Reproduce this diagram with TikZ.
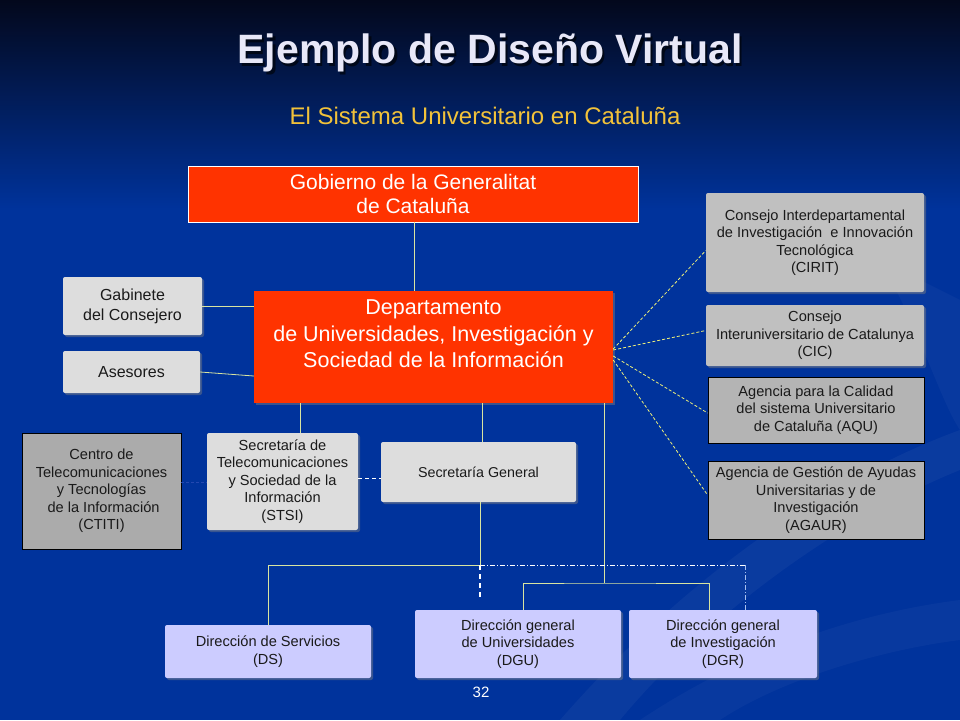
\documentclass[tikz,border=0pt]{standalone}
\usepackage{fontspec}
\setmainfont{Liberation Sans}
\usetikzlibrary{shadows}
\definecolor{bgtop}{HTML}{03081C}
\definecolor{bgbot}{HTML}{00339C}
\definecolor{redbox}{HTML}{FF3300}
\definecolor{lightbox}{HTML}{DDDDDD}
\definecolor{midbox}{HTML}{C0C0C0}
\definecolor{darkbox}{HTML}{B4B4B4}
\definecolor{ctbox}{HTML}{ABABAB}
\definecolor{lavbox}{HTML}{CCCCFF}
\definecolor{titlec}{HTML}{E8E8F8}
\definecolor{subc}{HTML}{F2C23A}
\definecolor{linec}{HTML}{D8E4A0}
\definecolor{yelld}{HTML}{EEF07A}
\definecolor{darkdash}{HTML}{2448B0}
\definecolor{lbluedash}{HTML}{A8C0F0}
\definecolor{txt}{HTML}{1A1A1A}
\tikzset{
  sz/.style 2 args={minimum width=#1, minimum height=#2},
  boxbase/.style={inner sep=0pt, align=center, font=\fontsize{14.6}{17.5}\selectfont, text=txt},
  redb/.style={boxbase, fill=redbox, text=white, font=\fontsize{21}{24}\selectfont},
  lightb/.style={boxbase, fill=lightbox, rounded corners=2pt, drop shadow={shadow xshift=2pt, shadow yshift=-2pt, opacity=0.45}},
  midb/.style={boxbase, fill=midbox, rounded corners=2pt, drop shadow={shadow xshift=2pt, shadow yshift=-2pt, opacity=0.45}},
  darkb/.style={boxbase, fill=darkbox, draw=black, line width=0.8pt},
  ctb/.style={boxbase, fill=ctbox, draw=black, line width=0.8pt},
  lavb/.style={boxbase, fill=lavbox, rounded corners=2pt, drop shadow={shadow xshift=2pt, shadow yshift=-2pt, opacity=0.45}},
  conn/.style={draw=linec, line width=0.8pt},
  yconn/.style={draw=yelld, line width=0.8pt, dash pattern=on 3pt off 2pt},
}
\begin{document}
\begin{tikzpicture}[x=1pt,y=-1pt]
\useasboundingbox (0,0) rectangle (960,720);
% background
\fill[bgbot] (0,0) rectangle (960,720);
\shade[top color=bgtop, bottom color=bgbot] (0,0) rectangle (960,210);
\fill[white, opacity=0.04] (560,720) .. controls (700,560) and (850,470) .. (960,430) -- (960,470) .. controls (860,510) and (720,600) .. (620,720) -- cycle;
\fill[white, opacity=0.03] (640,720) .. controls (760,640) and (880,610) .. (960,600) -- (960,640) .. controls (880,650) and (780,680) .. (720,720) -- cycle;
\fill[white, opacity=0.03] (880,260) .. controls (920,330) and (940,400) .. (960,430) -- (960,300) -- cycle;

% title
\node[text=black, opacity=0.6, font=\fontsize{41}{46}\selectfont\bfseries] at (492.5,55.5) {Ejemplo de Diseño Virtual};
\node[text=titlec, font=\fontsize{41}{46}\selectfont\bfseries] (title) at (490,53) {Ejemplo de Diseño Virtual};
\node[text=subc, font=\fontsize{24}{28}\selectfont] (sub) at (485,116) {El Sistema Universitario en Cataluña};

% top boxes
\node[redb, draw=white, line width=0.8pt, sz={450}{56}] (gob) at (413,194) {Gobierno de la Generalitat\\de Cataluña};
\node[redb, sz={359}{112}, drop shadow={shadow xshift=2pt, shadow yshift=-2pt, opacity=0.45}] (dept) at (433.5,347) {};
\node[text=white, align=center, font=\fontsize{21.5}{26.5}\selectfont] (deptT) at (433.5,334) {Departamento\\de Universidades, Investigación y\\Sociedad de la Información};

\node[lightb, font=\fontsize{16}{20}\selectfont, sz={139}{58}] (gab) at (132.5,306) {Gabinete\\del Consejero};
\node[lightb, font=\fontsize{16}{20}\selectfont, sz={137}{42}] (ase) at (131.5,372) {Asesores};

% middle row
\node[ctb, sz={159}{116}] (ctiti) at (101.5,491) {Centro de\\Telecomunicaciones\\y Tecnologías\\\ de la Información\\(CTITI)};
\node[lightb, sz={151}{97}] (stsi) at (282.5,481.5) {Secretaría de\\Telecomunicaciones\\y Sociedad de la\\Información\\(STSI)};
\node[lightb, font=\fontsize{14.3}{17}\selectfont, sz={195}{60}] (sg) at (478.5,472) {Secretaría General};

% right column
\node[midb, sz={218}{99}] (cirit) at (815,242.5) {Consejo Interdepartamental\\de Investigación\ \ e Innovación\\Tecnológica\\(CIRIT)};
\node[midb, sz={218}{61}] (cic) at (815,335.5) {Consejo\\Interuniversitario de Catalunya\\(CIC)};
\node[darkb, sz={216}{66}] (aqu) at (816,410) {Agencia para la Calidad\\del sistema Universitario\\de Cataluña (AQU)};
\node[darkb, sz={216}{78}] (agaur) at (816,500) {Agencia de Gestión de Ayudas\\Universitarias y de\\Investigación\\(AGAUR)};

% bottom row
\node[lavb, sz={206}{53}] (ds) at (268,651.5) {Dirección de Servicios\\(DS)};
\node[lavb, sz={206}{68}] (dgu) at (518,644) {Dirección general\\de Universidades\\(DGU)};
\node[lavb, sz={188}{68}] (dgr) at (723,644) {Dirección general\\de Investigación\\(DGR)};

\node[text=white, font=\fontsize{15}{17}\selectfont] (pnum) at (481,692) {32};

% connectors
\coordinate (j1) at (604,583);
\coordinate (j2) at (480,565);
\coordinate (j3) at (745,565);
\draw[conn] (gob.south -| 414,0) -- (dept.north -| 414,0);
\draw[conn] (gab.east) -- (gab.east -| dept.west);
\draw[conn] (ase.east) -- ([yshift=-4pt]ase.east -| dept.west);
\draw[conn] (dept.south -| 300,0) -- (stsi.north -| 300,0);
\draw[conn] (dept.south -| 482,0) -- (sg.north -| 482,0);
\draw[conn] (dept.south -| j1) -- (j1);
\draw[conn] (dgu.north -| 523,0) |- (j1) -| (dgr.north -| 709,0);
\draw[conn] (sg.south -| j2) -- (j2) -| (ds.north);

\draw[draw=darkdash, line width=1pt, dash pattern=on 3pt off 2pt] (ctiti.east |- 0,482) -- (stsi.west |- 0,482);
\draw[draw=white, line width=0.8pt, dash pattern=on 4pt off 3pt] (stsi.east |- 0,478) -- (sg.west |- 0,478);
\draw[draw=white, line width=1.4pt, dash pattern=on 5pt off 4pt] (j2) -- (480,600);
\draw[draw=white, line width=0.7pt, dash pattern=on 5pt off 2pt on 1pt off 2pt] (j2) -- (j3);
\draw[draw=lbluedash, line width=0.7pt, dash pattern=on 5pt off 2pt on 1pt off 2pt] (j3) -- (dgr.north -| j3);

\draw[yconn] ([yshift=-2pt]dept.east) -- ([yshift=-8pt]cirit.west);
\draw[yconn] ([yshift=-3pt]dept.east) -- ([yshift=5pt]cic.west);
\draw[yconn] ([yshift=-9pt]dept.east) -- ([yshift=-3pt]aqu.west);
\draw[yconn] ([yshift=-13pt]dept.east) -- ([yshift=5pt]agaur.west);
\end{tikzpicture}
\end{document}
